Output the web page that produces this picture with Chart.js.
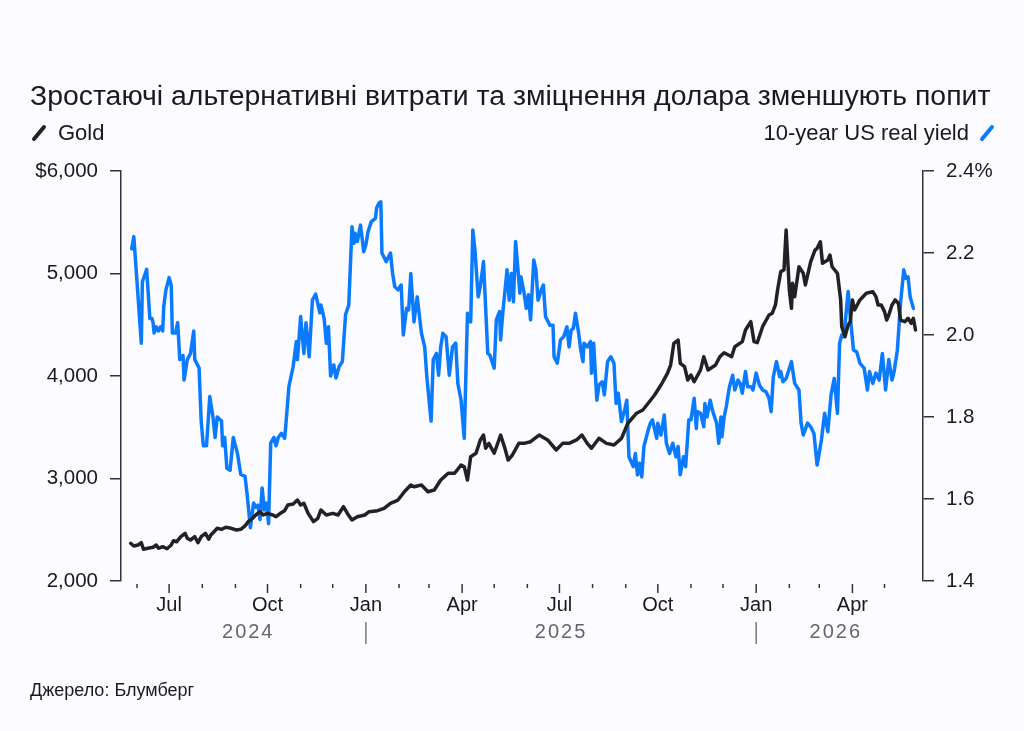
<!DOCTYPE html>
<html>
<head>
<meta charset="utf-8">
<script src="https://cdn.jsdelivr.net/npm/chart.js@4.4.1/dist/chart.umd.min.js"></script>
<style>
  body { margin: 0; background: #fcfbff; font-family: "Liberation Sans", Arial, sans-serif; color: #1a1a1a; }
  #wrap { position: relative; width: 1024px; height: 731px; overflow: hidden; }
  #chart { position: absolute; left: 0; top: 0; }
  .title { position: absolute; left: 30px; top: 79px; font-size: 28.4px; line-height: 32px; white-space: nowrap; }
  .legend { position: absolute; top: 120px; font-size: 22px; line-height: 26px; display: flex; align-items: center; white-space: nowrap; }
  .legend svg { display: block; }
  .source { position: absolute; left: 30px; top: 679px; font-size: 18px; line-height: 22px; }
</style>
</head>
<body>
<div id="wrap">
  <canvas id="chart" width="1024" height="731"></canvas>
  <div class="title">Зростаючі альтернативні витрати та зміцнення долара зменшують попит</div>
  <div class="legend" style="left:30px">
    <svg width="18" height="20"><line x1="4" y1="16" x2="14" y2="4" stroke="#222" stroke-width="4" stroke-linecap="round"/></svg>
    <span style="margin-left:10px">Gold</span>
  </div>
  <div class="legend" style="right:28px">
    <span style="margin-right:9px">10-year US real yield</span>
    <svg width="18" height="20"><line x1="4" y1="16" x2="14" y2="4" stroke="#0a7aff" stroke-width="4" stroke-linecap="round"/></svg>
  </div>
  <div class="source">Джерело: Блумберг</div>
</div>
<script>
// Gold price, USD per ounce
const goldDates = [
  '2024-05-26','2024-05-29','2024-06-02','2024-06-05','2024-06-07','2024-06-11','2024-06-16','2024-06-19','2024-06-21','2024-06-25',
  '2024-06-29','2024-07-03','2024-07-05','2024-07-08','2024-07-12','2024-07-16','2024-07-18','2024-07-21','2024-07-25','2024-07-28',
  '2024-07-31','2024-08-04','2024-08-07','2024-08-09','2024-08-12','2024-08-15','2024-08-19','2024-08-23','2024-08-28','2024-09-02',
  '2024-09-06','2024-09-10','2024-09-13','2024-09-17','2024-09-20','2024-09-24','2024-09-27','2024-10-01','2024-10-06','2024-10-09',
  '2024-10-13','2024-10-17','2024-10-20','2024-10-25','2024-10-29','2024-11-01','2024-11-04','2024-11-08','2024-11-13','2024-11-17',
  '2024-11-20','2024-11-25','2024-12-01','2024-12-06','2024-12-11','2024-12-15','2024-12-19','2024-12-24','2024-12-31','2025-01-04',
  '2025-01-12','2025-01-18','2025-01-24','2025-01-31','2025-02-06','2025-02-12','2025-02-15','2025-02-22','2025-02-28','2025-03-06',
  '2025-03-12','2025-03-19','2025-03-25','2025-03-31','2025-04-03','2025-04-06','2025-04-09','2025-04-14','2025-04-18','2025-04-21',
  '2025-04-23','2025-04-26','2025-05-01','2025-05-07','2025-05-11','2025-05-14','2025-05-18','2025-05-24','2025-05-29','2025-06-04',
  '2025-06-12','2025-06-20','2025-06-28','2025-07-04','2025-07-10','2025-07-17','2025-07-22','2025-07-27','2025-07-31','2025-08-07',
  '2025-08-14','2025-08-21','2025-08-28','2025-09-03','2025-09-11','2025-09-17','2025-09-22','2025-09-28','2025-10-04','2025-10-10',
  '2025-10-13','2025-10-16','2025-10-20','2025-10-22','2025-10-26','2025-10-29','2025-11-01','2025-11-04','2025-11-10','2025-11-13',
  '2025-11-17','2025-11-24','2025-11-28','2025-12-02','2025-12-09','2025-12-12','2025-12-19','2025-12-22','2025-12-27','2025-12-30',
  '2026-01-02','2026-01-07','2026-01-13','2026-01-16','2026-01-19','2026-01-21','2026-01-24','2026-01-27','2026-01-29','2026-02-01',
  '2026-02-03','2026-02-04','2026-02-06','2026-02-10','2026-02-14','2026-02-16','2026-02-21','2026-02-25','2026-02-27','2026-03-02',
  '2026-03-04','2026-03-09','2026-03-11','2026-03-13','2026-03-18','2026-03-21','2026-03-22','2026-03-25','2026-03-28','2026-03-30',
  '2026-04-01','2026-04-03','2026-04-08','2026-04-14','2026-04-20','2026-04-23','2026-04-25','2026-04-28','2026-05-01','2026-05-03',
  '2026-05-05','2026-05-08','2026-05-11','2026-05-14','2026-05-16','2026-05-20','2026-05-23','2026-05-26','2026-05-28','2026-05-30'
];
const goldValues = [
  2368,2341,2351,2374,2309,2319,2329,2351,2319,2335,
  2315,2351,2393,2383,2432,2465,2417,2400,2432,2374,
  2432,2465,2407,2449,2481,2514,2504,2524,2514,2498,
  2504,2537,2579,2612,2644,2676,2644,2660,2644,2627,
  2660,2686,2741,2751,2790,2741,2758,2660,2579,2612,
  2693,2644,2660,2644,2725,2654,2595,2627,2644,2676,
  2686,2709,2758,2790,2871,2937,2920,2937,2871,2888,
  2985,3051,3051,3132,3115,2985,3213,3246,3376,3424,
  3295,3343,3246,3424,3295,3180,3229,3343,3343,3359,
  3424,3376,3278,3343,3343,3376,3424,3343,3295,3392,
  3343,3327,3392,3539,3636,3668,3734,3815,3912,4026,
  4107,4319,4351,4124,4091,3961,4010,3944,4059,4188,
  4059,4107,4188,4227,4188,4286,4335,4449,4530,4335,
  4325,4481,4595,4612,4693,4839,5018,5034,5424,4839,
  4660,4904,4774,5066,5002,4888,5115,5229,5246,5310,
  5100,5132,5180,5066,5002,4742,4481,4383,4498,4530,
  4742,4644,4742,4807,4823,4774,4693,4693,4628,4546,
  4595,4693,4742,4709,4546,4530,4563,4514,4563,4449
];

// 10-year US real yield, percent
const yieldDates = [
  '2024-05-27','2024-05-29','2024-06-05','2024-06-06','2024-06-10','2024-06-13','2024-06-15','2024-06-16','2024-06-17','2024-06-19',
  '2024-06-21','2024-06-23','2024-06-25','2024-06-26','2024-06-28','2024-07-01','2024-07-03','2024-07-04','2024-07-07','2024-07-09',
  '2024-07-11','2024-07-14','2024-07-15','2024-07-18','2024-07-21','2024-07-24','2024-07-25','2024-07-29','2024-07-31','2024-08-02',
  '2024-08-05','2024-08-08','2024-08-11','2024-08-13','2024-08-15','2024-08-19','2024-08-20','2024-08-22','2024-08-24','2024-08-27',
  '2024-08-30','2024-09-03','2024-09-06','2024-09-10','2024-09-12','2024-09-15','2024-09-18','2024-09-20','2024-09-22','2024-09-24',
  '2024-09-26','2024-09-28','2024-09-30','2024-10-02','2024-10-04','2024-10-07','2024-10-09','2024-10-11','2024-10-14','2024-10-17',
  '2024-10-18','2024-10-21','2024-10-25','2024-10-28','2024-10-29','2024-11-01','2024-11-04','2024-11-06','2024-11-09','2024-11-12',
  '2024-11-15','2024-11-19','2024-11-20','2024-11-23','2024-11-25','2024-11-27','2024-11-29','2024-12-02','2024-12-04','2024-12-07',
  '2024-12-10','2024-12-13','2024-12-16','2024-12-19','2024-12-21','2024-12-22','2024-12-24','2024-12-27','2024-12-30','2025-01-01',
  '2025-01-03','2025-01-06','2025-01-10','2025-01-11','2025-01-13','2025-01-15','2025-01-16','2025-01-20','2025-01-24','2025-01-26',
  '2025-01-28','2025-01-31','2025-02-03','2025-02-05','2025-02-08','2025-02-10','2025-02-12','2025-02-15','2025-02-18','2025-02-22',
  '2025-02-25','2025-02-27','2025-03-03','2025-03-05','2025-03-08','2025-03-10','2025-03-12','2025-03-14','2025-03-17','2025-03-20',
  '2025-03-23','2025-03-26','2025-03-28','2025-03-31','2025-04-03','2025-04-06','2025-04-09','2025-04-11','2025-04-13','2025-04-16',
  '2025-04-18','2025-04-21','2025-04-25','2025-04-27','2025-05-01','2025-05-03','2025-05-06','2025-05-07','2025-05-09','2025-05-13',
  '2025-05-15','2025-05-17','2025-05-19','2025-05-21','2025-05-23','2025-05-25','2025-05-26','2025-05-29','2025-05-31','2025-06-02',
  '2025-06-04','2025-06-07','2025-06-09','2025-06-11','2025-06-14','2025-06-16','2025-06-18','2025-06-22','2025-06-25','2025-06-26',
  '2025-06-29','2025-07-02','2025-07-05','2025-07-08','2025-07-10','2025-07-12','2025-07-14','2025-07-16','2025-07-19','2025-07-21',
  '2025-07-23','2025-07-24','2025-07-27','2025-07-30','2025-07-31','2025-08-02','2025-08-05','2025-08-07','2025-08-10','2025-08-12',
  '2025-08-15','2025-08-18','2025-08-21','2025-08-23','2025-08-25','2025-08-28','2025-08-31','2025-09-02','2025-09-04','2025-09-08',
  '2025-09-10','2025-09-12','2025-09-14','2025-09-16','2025-09-18','2025-09-22','2025-09-24','2025-09-26','2025-09-30','2025-10-01',
  '2025-10-04','2025-10-07','2025-10-09','2025-10-12','2025-10-15','2025-10-18','2025-10-20','2025-10-22','2025-10-25','2025-10-27',
  '2025-10-30','2025-11-01','2025-11-04','2025-11-06','2025-11-07','2025-11-10','2025-11-13','2025-11-14','2025-11-16','2025-11-19',
  '2025-11-21','2025-11-25','2025-11-27','2025-11-29','2025-11-30','2025-12-02','2025-12-04','2025-12-07','2025-12-10','2025-12-12',
  '2025-12-15','2025-12-17','2025-12-19','2025-12-22','2025-12-24','2025-12-27','2025-12-29','2026-01-01','2026-01-04','2026-01-07',
  '2026-01-10','2026-01-13','2026-01-15','2026-01-17','2026-01-20','2026-01-23','2026-01-24','2026-01-26','2026-01-29','2026-02-03',
  '2026-02-06','2026-02-10','2026-02-12','2026-02-14','2026-02-18','2026-02-21','2026-02-24','2026-02-27','2026-03-03','2026-03-06',
  '2026-03-09','2026-03-12','2026-03-15','2026-03-18','2026-03-20','2026-03-22','2026-03-24','2026-03-28','2026-03-30','2026-04-02',
  '2026-04-05','2026-04-08','2026-04-12','2026-04-15','2026-04-17','2026-04-20','2026-04-23','2026-04-26','2026-04-29','2026-05-02',
  '2026-05-05','2026-05-08','2026-05-10','2026-05-13','2026-05-16','2026-05-19','2026-05-21','2026-05-23','2026-05-25','2026-05-28'
];
const yieldValues = [
  2.21,2.24,1.98,2.13,2.16,2.04,2.04,2.03,2.005,2.02,
  2.01,2.02,2.01,2.07,2.11,2.14,2.12,2.005,2.005,2.03,
  1.94,1.95,1.89,1.94,1.955,2.01,1.94,1.92,1.79,1.73,
  1.73,1.85,1.80,1.75,1.80,1.79,1.73,1.75,1.675,1.67,
  1.75,1.71,1.66,1.655,1.61,1.53,1.59,1.58,1.585,1.55,
  1.627,1.573,1.59,1.54,1.737,1.75,1.73,1.75,1.76,1.748,
  1.776,1.874,1.923,1.984,1.94,2.045,1.955,2.03,1.947,2.085,
  2.10,2.054,2.073,2.04,1.98,2.02,1.90,1.927,1.895,1.923,
  1.935,2.05,2.073,2.264,2.224,2.248,2.228,2.268,2.203,2.22,
  2.252,2.276,2.285,2.309,2.321,2.325,2.20,2.179,2.20,2.15,
  2.118,2.11,2.122,2.00,2.065,2.061,2.15,2.032,2.093,2.004,
  1.971,1.898,1.79,1.94,1.955,1.902,1.971,2.004,1.996,1.902,
  1.971,1.98,1.882,1.841,1.748,2.053,2.032,2.256,2.207,2.093,
  2.118,2.179,1.955,1.951,1.919,2.037,2.057,1.988,2.053,2.159,
  2.085,2.15,2.081,2.228,2.167,2.102,2.142,2.102,2.065,2.098,
  2.037,2.183,2.159,2.085,2.11,2.122,2.045,2.024,2.024,1.947,
  1.931,1.988,1.996,2.02,1.971,2.012,2.016,2.053,2.004,1.963,
  1.935,1.98,1.971,1.984,1.907,1.98,1.841,1.878,1.886,1.854,
  1.935,1.947,1.931,1.833,1.858,1.789,1.817,1.841,1.703,1.679,
  1.711,1.659,1.687,1.654,1.728,1.768,1.785,1.793,1.748,1.785,
  1.756,1.805,1.736,1.711,1.736,1.703,1.728,1.659,1.703,1.679,
  1.793,1.793,1.846,1.772,1.813,1.809,1.776,1.833,1.80,1.841,
  1.817,1.785,1.736,1.80,1.752,1.80,1.825,1.874,1.902,1.866,
  1.89,1.882,1.858,1.911,1.874,1.874,1.866,1.907,1.878,1.866,
  1.862,1.846,1.813,1.898,1.935,1.898,1.911,1.886,1.894,1.935,
  1.882,1.866,1.785,1.756,1.785,1.776,1.76,1.683,1.744,1.809,
  1.764,1.854,1.894,1.809,1.98,2.00,1.996,2.106,2.045,1.963,
  1.959,1.931,1.919,1.866,1.911,1.882,1.907,1.89,1.955,1.866,
  1.94,1.89,1.911,1.963,2.077,2.159,2.138,2.142,2.093,2.065
];

// axes
const axisStart = '2024-05-17';
const axisEnd = '2026-06-06';
const goldTicks = [2000, 3000, 4000, 5000, 6000];
const goldTickLabels = ['2,000', '3,000', '4,000', '5,000', '$6,000'];
const yieldTicks = [1.4, 1.6, 1.8, 2.0, 2.2, 2.4];
const yieldTickLabels = ['1.4', '1.6', '1.8', '2.0', '2.2', '2.4%'];
const quarterLabels = { 0: 'Jan', 3: 'Apr', 6: 'Jul', 9: 'Oct' };
const yearLabels = ['2024', '2025', '2026'];
const yearStarts = ['2025-01-01', '2026-01-01'];

const DAY = 86400000;
const toDay = s => Date.parse(s) / DAY;
const FONT = '"Liberation Sans", Arial, sans-serif';

// first of every month inside the axis range
const monthTicks = [];
for (let y = 2024, m = 5; y < 2026 || m <= 4; m++) {
  if (m > 11) { m = 0; y++; }
  monthTicks.push(Date.UTC(y, m, 1) / DAY);
}

const axisDecor = {
  id: 'axisDecor',
  afterDraw(chart) {
    const c = chart.ctx, xs = chart.scales.x, bottom = chart.chartArea.bottom;
    c.save();
    c.strokeStyle = '#333';
    c.lineWidth = 1.5;
    xs.ticks.forEach(t => {
      const px = xs.getPixelForValue(t.value);
      const big = new Date(t.value * DAY).getUTCMonth() % 3 === 0;
      c.beginPath();
      c.moveTo(px, bottom + 3);
      c.lineTo(px, bottom + (big ? 12 : 7));
      c.stroke();
    });

    const first = Math.min(toDay(goldDates[0]), toDay(yieldDates[0]));
    const last = Math.max(toDay(goldDates[goldDates.length - 1]), toDay(yieldDates[yieldDates.length - 1]));
    const bounds = [first, ...yearStarts.map(toDay), last];
    c.fillStyle = '#666';
    c.font = '20px ' + FONT;
    c.textAlign = 'center';
    c.textBaseline = 'middle';
    if ('letterSpacing' in c) c.letterSpacing = '2px';
    yearLabels.forEach((label, i) => {
      const a = xs.getPixelForValue(bounds[i]);
      const b = xs.getPixelForValue(bounds[i + 1]);
      c.fillText(label, (a + b) / 2, bottom + 51);
    });
    c.strokeStyle = '#777';
    yearStarts.forEach(d => {
      const px = xs.getPixelForValue(toDay(d));
      c.beginPath();
      c.moveTo(px, bottom + 41);
      c.lineTo(px, bottom + 63);
      c.stroke();
    });
    c.restore();
  }
};

new Chart(document.getElementById('chart'), {
  type: 'line',
  data: {
    datasets: [{
      label: 'Gold',
      data: goldDates.map((d, i) => ({ x: toDay(d), y: goldValues[i] })),
      yAxisID: 'yGold',
      borderColor: '#222222',
      borderWidth: 3.5,
      pointRadius: 0,
      tension: 0,
      borderJoinStyle: 'round',
      borderCapStyle: 'round'
    }, {
      label: '10-year US real yield',
      data: yieldDates.map((d, i) => ({ x: toDay(d), y: yieldValues[i] })),
      yAxisID: 'yYield',
      borderColor: '#0a7aff',
      borderWidth: 3.5,
      pointRadius: 0,
      tension: 0,
      borderJoinStyle: 'round',
      borderCapStyle: 'round'
    }]
  },
  options: {
    responsive: false,
    animation: false,
    devicePixelRatio: 1,
    layout: { padding: { top: 171, left: 0, right: 0, bottom: 0 } },
    plugins: { legend: { display: false }, tooltip: { enabled: false } },
    scales: {
      x: {
        type: 'linear',
        min: toDay(axisStart),
        max: toDay(axisEnd),
        border: { display: false },
        grid: { display: false, drawTicks: false },
        afterBuildTicks: s => { s.ticks = monthTicks.map(v => ({ value: v })); },
        afterFit: s => { s.height = 150; },
        ticks: {
          autoSkip: false,
          maxRotation: 0,
          padding: 12,
          color: '#1a1a1a',
          font: { size: 20, family: FONT },
          callback: v => quarterLabels[new Date(v * DAY).getUTCMonth()] || ''
        }
      },
      yGold: {
        position: 'left',
        min: 2000,
        max: 6000,
        afterBuildTicks: s => { s.ticks = goldTicks.map(v => ({ value: v })); },
        afterFit: s => { s.width = 121; },
        border: { display: true, color: '#333', width: 1.5 },
        grid: { drawOnChartArea: false, drawTicks: true, tickLength: 11, color: '#333', lineWidth: 1.5 },
        ticks: {
          padding: 12,
          color: '#1a1a1a',
          font: { size: 20.5, family: FONT },
          callback: (v, i) => goldTickLabels[i]
        }
      },
      yYield: {
        position: 'right',
        min: 1.4,
        max: 2.4,
        afterBuildTicks: s => { s.ticks = yieldTicks.map(v => ({ value: v })); },
        afterFit: s => { s.width = 101; },
        border: { display: true, color: '#333', width: 1.5 },
        grid: { drawOnChartArea: false, drawTicks: true, tickLength: 11, color: '#333', lineWidth: 1.5 },
        ticks: {
          padding: 12,
          color: '#1a1a1a',
          font: { size: 20.5, family: FONT },
          callback: (v, i) => yieldTickLabels[i]
        }
      }
    }
  },
  plugins: [axisDecor]
});
</script>
</body>
</html>
